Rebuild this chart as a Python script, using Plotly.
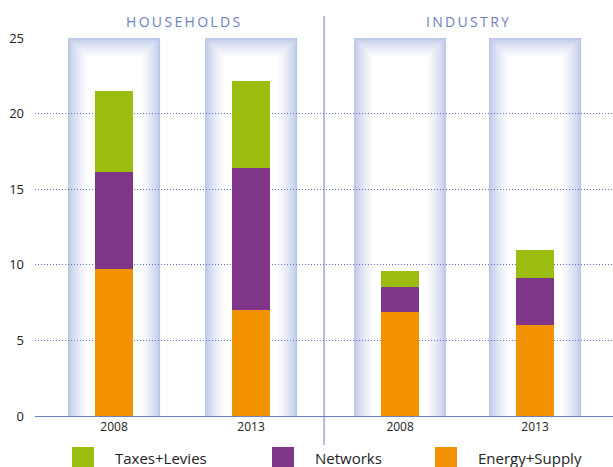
import plotly.graph_objects as go

# ---- data ----
groups = ["HOUSEHOLDS", "INDUSTRY"]
years = ["2008", "2013", "2008", "2013"]
series_names = ["Energy+Supply", "Networks", "Taxes+Levies"]
energy_supply = [9.7, 7.0, 6.9, 6.0]
networks = [6.45, 9.4, 1.65, 3.1]
taxes_levies = [5.35, 5.75, 1.05, 1.85]

# ---- layout helpers (positions, not data) ----
xpos = [0.0, 1.0, 2.088, 3.073]
divider_x = 1.533
bar_w = 0.277
glow_w = 0.672
px_x = 137.0          # px per x unit
PLOT_L, PLOT_T, PLOT_W, PLOT_H = 35, 38, 578, 378
px_y = PLOT_H / 25.0  # px per y unit

c_green = "#9BBD0F"
c_purple = "#7F3688"
c_orange = "#F29200"
c_blue = "#6F7FC2"
colors = [c_orange, c_purple, c_green]

fig = go.Figure()
for name, vals, col in zip(series_names, [energy_supply, networks, taxes_levies], colors):
    fig.add_trace(go.Bar(x=xpos, y=vals, name=name, showlegend=False,
                         marker=dict(color=col, line=dict(width=0)), width=bar_w))

shapes = []
edge = (186, 198, 232)
N = 20
for xc in xpos:
    for i in range(N):
        t = (i / (N - 1)) ** 0.7
        r = int(edge[0] + (255 - edge[0]) * t)
        g = int(edge[1] + (255 - edge[1]) * t)
        b = int(edge[2] + (255 - edge[2]) * t)
        dx = i / px_x
        dy = i / px_y
        shapes.append(dict(type="rect", xref="x", yref="y", layer="below",
                           x0=xc - glow_w / 2 + dx, x1=xc + glow_w / 2 - dx,
                           y0=0, y1=25 - dy,
                           fillcolor=f"rgb({r},{g},{b})", line=dict(width=0)))

def py2paper(py):
    return (PLOT_T + PLOT_H - py) / PLOT_H

def px2paper(px):
    return (px - PLOT_L) / PLOT_W

shapes.append(dict(type="line", xref="x", yref="paper", x0=divider_x, x1=divider_x,
                   y0=py2paper(445), y1=py2paper(16), line=dict(color=c_blue, width=1)))

annotations = [
    dict(text="\u2009".join(groups[0]), xref="x", yref="paper",
         x=(xpos[0] + xpos[1]) / 2, y=py2paper(21), yanchor="middle", showarrow=False,
         font=dict(family="Open Sans", size=14, color="#6E80C0")),
    dict(text="\u2009".join(groups[1]), xref="x", yref="paper",
         x=(xpos[2] + xpos[3]) / 2, y=py2paper(21), yanchor="middle", showarrow=False,
         font=dict(family="Open Sans", size=14, color="#6E80C0")),
]

# manual legend (order as in reference)
legend_items = [("Taxes+Levies", c_green, 72, 113),
                ("Networks", c_purple, 272, 313),
                ("Energy+Supply", c_orange, 435, 476)]
for label, col, sx, tx in legend_items:
    shapes.append(dict(type="rect", xref="paper", yref="paper",
                       x0=px2paper(sx), x1=px2paper(sx + 22),
                       y0=py2paper(470), y1=py2paper(447),
                       fillcolor=col, line=dict(width=0)))
    annotations.append(dict(text=label, xref="paper", yref="paper",
                            x=px2paper(tx), y=py2paper(458), xanchor="left", yanchor="middle",
                            showarrow=False,
                            font=dict(family="Open Sans", size=15, color="#222222")))

fig.update_layout(
    width=613, height=467,
    margin=dict(l=PLOT_L, r=613 - PLOT_L - PLOT_W, t=PLOT_T, b=467 - PLOT_T - PLOT_H),
    barmode="stack",
    plot_bgcolor="white", paper_bgcolor="white",
    shapes=shapes, annotations=annotations,
    font=dict(family="Open Sans", color="#333333"),
    showlegend=False,
)
fig.update_xaxes(range=[-0.577, 3.642], tickmode="array", tickvals=xpos,
                 ticktext=years, showgrid=False, zeroline=False,
                 showline=True, linecolor=c_blue, linewidth=1,
                 ticks="", tickfont=dict(size=12, color="#222222"))
fig.update_yaxes(range=[0, 25], tickvals=[0, 5, 10, 15, 20, 25],
                 showgrid=True, gridcolor="#5F70B8", griddash="1px,2px", gridwidth=1,
                 zeroline=False, showline=False, ticks="",
                 ticklabelstandoff=10, tickfont=dict(size=13, color="#222222"))

fig.write_html("out.html", config={"displayModeBar": False},
               post_script="document.body.style.margin='0px';document.body.style.padding='0px';")
